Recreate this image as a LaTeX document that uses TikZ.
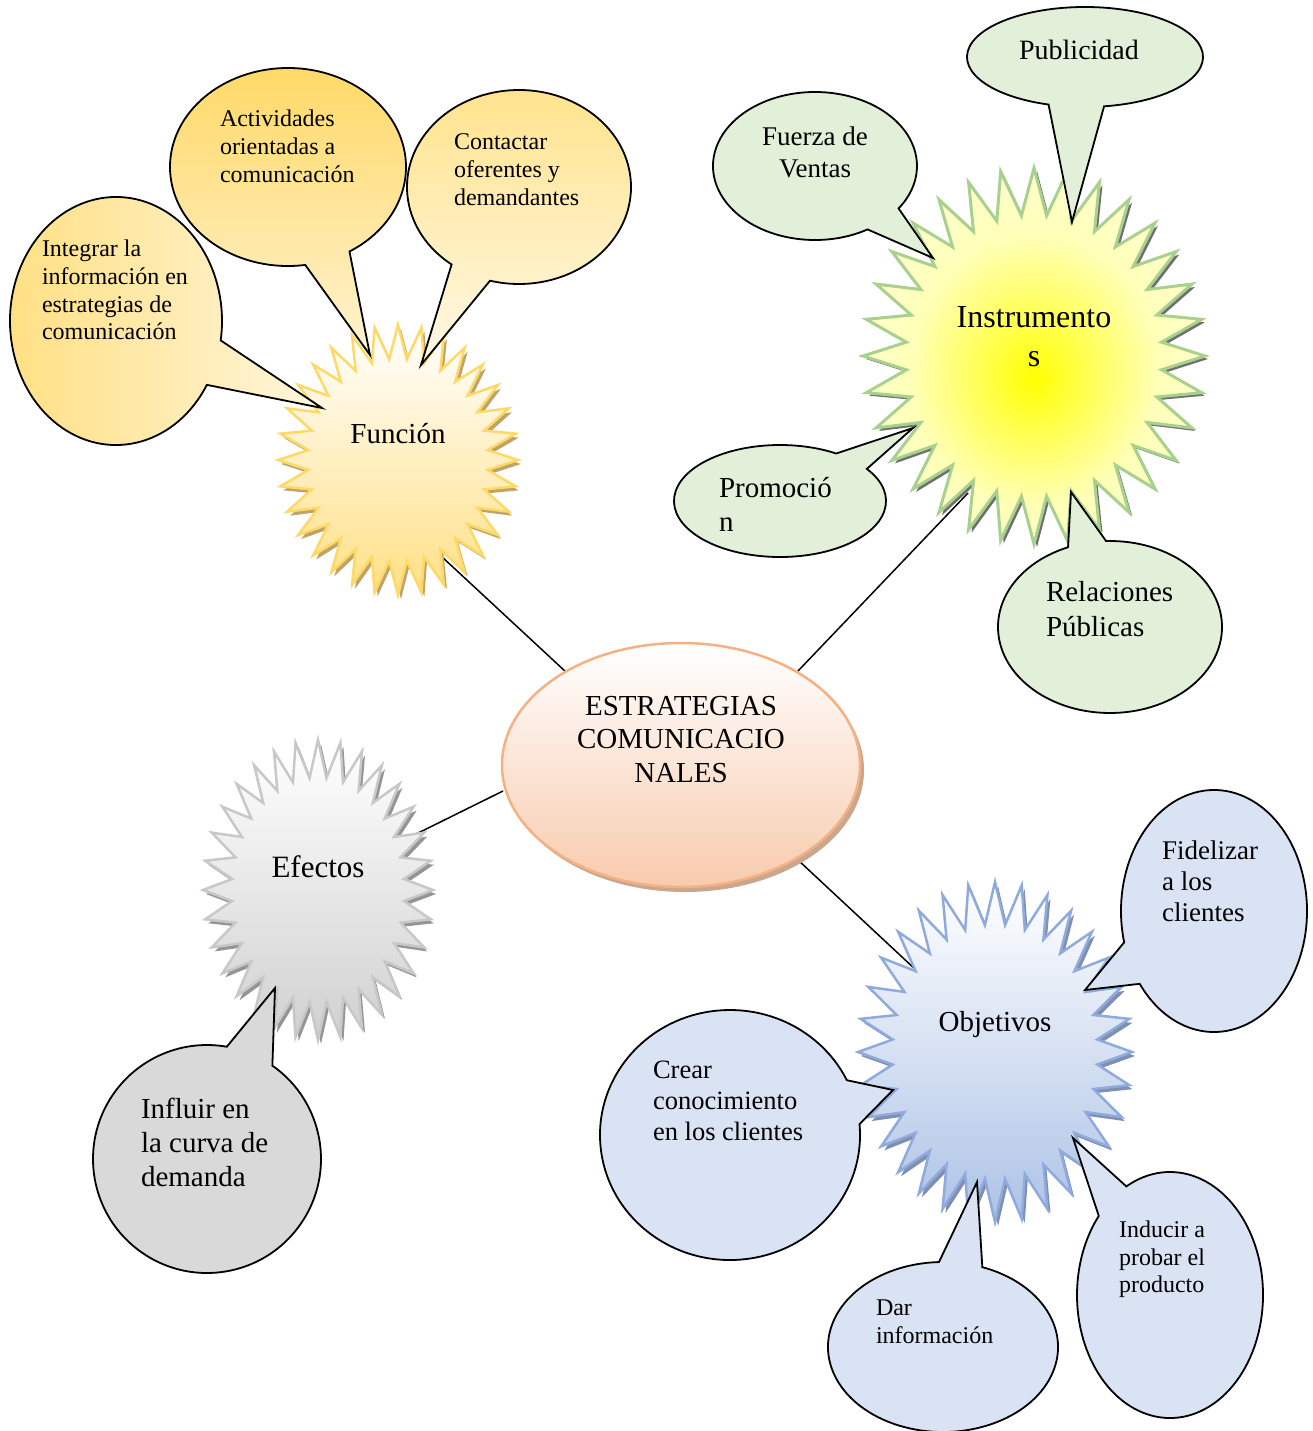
\documentclass[tikz,border=0pt]{standalone}
\usepackage{fontspec}
\setmainfont{Liberation Serif}
\usetikzlibrary{shapes.geometric,shadings}
\definecolor{fBorder}{HTML}{FFD966}
\definecolor{fShadow}{HTML}{BFA46A}
\definecolor{fBot}{HTML}{FFE085}
\definecolor{actTop}{HTML}{FFD865}
\definecolor{actBot}{HTML}{FFF3D2}
\definecolor{conTop}{HTML}{FFE28A}
\definecolor{conBot}{HTML}{FFF9E6}
\definecolor{intL}{HTML}{FFDF80}
\definecolor{intR}{HTML}{FFF6DC}
\definecolor{gFill}{HTML}{E2EFD9}
\definecolor{gBorder}{HTML}{A9D18E}
\definecolor{iShadow}{HTML}{6F6F6F}
\definecolor{cBorder}{HTML}{F4B183}
\definecolor{cBot}{HTML}{F8CBAD}
\definecolor{cShadow}{HTML}{C9A68E}
\definecolor{eBorder}{HTML}{C8C8C8}
\definecolor{eBot}{HTML}{D0D0D0}
\definecolor{eShadow}{HTML}{959595}
\definecolor{grFill}{HTML}{D9D9D9}
\definecolor{oBorder}{HTML}{8FAADC}
\definecolor{oBot}{HTML}{ADC2E6}
\definecolor{oShadow}{HTML}{7F8FAF}
\definecolor{bFill}{HTML}{DAE3F3}
\pgfdeclareradialshading{instrsh}{\pgfpoint{0bp}{-3bp}}{color(0bp)=(yellow); color(6bp)=(yellow!75!white); color(18bp)=(yellow!28!white); color(32bp)=(yellow!14!white); color(50bp)=(yellow!10!white)}
\newcommand\drawstar[5]{\path[#1] plot[samples=64, domain=0:63, variable=\k] ({#2+#4*(1-0.25*mod(\k,2))*cos(-90+\k*5.625)}, {#3+#5*(1-0.25*mod(\k,2))*sin(-90+\k*5.625)}) -- cycle;}
\newcommand\bubble[8]{\path[#1] (#2,#3) ++(#7:#4 and #5) arc[start angle=#7, end angle=#6+360, x radius=#4, y radius=#5] -- #8 -- cycle;}
\begin{document}
\begin{tikzpicture}[x=1pt,y=-1pt,
  bub/.style={draw=black, line width=1.8pt, line join=miter},
  conn/.style={draw=black, line width=1.5pt},
  txt/.style={inner sep=0pt, outer sep=0pt, align=left},
  ctxt/.style={inner sep=0pt, outer sep=0pt, align=center}]
\useasboundingbox[fill=white] (0,0) rectangle (1313,1431);

% connectors
\coordinate (fA) at (441,556); \coordinate (cA) at (566,672);
\coordinate (iA) at (968,493); \coordinate (cB) at (798,671);
\coordinate (eA) at (408,838); \coordinate (cC) at (503,791);
\coordinate (oA) at (916,970); \coordinate (cD) at (798,860);
\draw[conn] (fA) -- (cA);
\draw[conn] (iA) -- (cB);
\draw[conn] (eA) -- (cC);
\draw[conn] (oA) -- (cD);

% central ellipse
\fill[cShadow] (685,770) ellipse[x radius=179, y radius=122];
\path[top color=white, bottom color=cBot, draw=cBorder, line width=2.5pt] (681,765) ellipse[x radius=179, y radius=122];
\node[ctxt, anchor=north, font=\fontsize{29}{33.5}\selectfont] (core) at (681,696) {ESTRATEGIAS\\COMUNICACIO\\NALES};

% Funcion star
\drawstar{fill=fShadow, shift={(3,4)}}{398}{460}{120}{135}
\drawstar{top color=white, bottom color=fBot, draw=fBorder, line width=2.5pt, line join=miter}{398}{460}{120}{135}
\node[ctxt, anchor=base, font=\fontsize{29}{33}\selectfont] (funcion) at (398,443) {Función};

% Instrumentos star
\drawstar{fill=iShadow, shift={(3,3)}}{1034}{356}{171}{188}
\drawstar{shading=instrsh, draw=gBorder, line width=3pt, line join=miter}{1034}{356}{171}{188}
\node[ctxt, anchor=north, font=\fontsize{32}{39}\selectfont] (instr) at (1034,307) {Instrumento\\s};

% Efectos star
\drawstar{fill=eShadow, shift={(3,4)}}{318}{890}{115}{150}
\drawstar{top color=white, bottom color=eBot, draw=eBorder, line width=2.5pt, line join=miter}{318}{890}{115}{150}
\node[ctxt, anchor=base, font=\fontsize{31}{35}\selectfont] (efectos) at (318,877) {Efectos};

% Objetivos star
\drawstar{fill=oShadow, shift={(3,4)}}{995}{1052}{137}{170}
\drawstar{top color=white, bottom color=oBot, draw=oBorder, line width=2.5pt, line join=miter}{995}{1052}{137}{170}
\node[ctxt, anchor=base, font=\fontsize{29}{33}\selectfont] (objetivos) at (995,1031) {Objetivos};

% Funcion bubbles
\bubble{bub, left color=intL, right color=intR}{116}{321}{106}{124}{9}{31}{(322,408)}
\node[txt, anchor=north west, font=\fontsize{24}{27.7}\selectfont] (integrar) at (42,240) {Integrar la\\información en\\estrategias de\\comunicación};
\bubble{bub, top color=actTop, bottom color=actBot}{288}{167}{118}{99}{58.6}{81.6}{(370,355)}
\node[txt, anchor=north west, font=\fontsize{24}{28}\selectfont] (activ) at (220,110) {Actividades\\orientadas a\\comunicación};
\bubble{bub, top color=conTop, bottom color=conBot}{519}{187}{112}{97}{105}{127}{(421,365)}
\node[txt, anchor=north west, font=\fontsize{24}{28}\selectfont] (contact) at (454,134) {Contactar\\oferentes y\\demandantes};

% Instrumentos bubbles
\bubble{bub, fill=gFill}{1085}{57}{118}{50}{80.7}{108}{(1072,222)}
\node[ctxt, anchor=base, font=\fontsize{28}{32}\selectfont] (public) at (1079,60) {Publicidad};
\bubble{bub, fill=gFill}{815}{166}{102}{74}{35}{59}{(933,258)}
\node[ctxt, anchor=north, font=\fontsize{27}{32}\selectfont] (fuerza) at (815,127) {Fuerza de\\Ventas};
\bubble{bub, fill=gFill}{780}{501}{106}{56}{-58}{-35}{(913,428)}
\node[txt, anchor=north west, font=\fontsize{29}{34}\selectfont] (promo) at (719,477) {Promoció\\n};
\bubble{bub, fill=gFill}{1110}{627}{112}{86}{-112}{-92}{(1071,492)}
\node[txt, anchor=north west, font=\fontsize{29}{35}\selectfont] (relac) at (1046,581) {Relaciones\\Públicas};

% Efectos bubble
\bubble{bub, fill=grFill}{207}{1159}{114}{114}{-80}{-55}{(275,988)}
\node[txt, anchor=north west, font=\fontsize{29}{34}\selectfont] (influir) at (141,1098) {Influir en\\la curva de\\demanda};

% Objetivos bubbles
\bubble{bub, fill=bFill}{1214}{911}{93}{121}{143}{165}{(1085,990)}
\node[txt, anchor=north west, font=\fontsize{27}{31}\selectfont] (fidel) at (1162,841) {Fidelizar\\a los\\clientes};
\bubble{bub, fill=bFill}{730}{1135}{130}{125}{-26}{-5}{(893,1090)}
\node[txt, anchor=north west, font=\fontsize{26.5}{31}\selectfont] (crear) at (653,1061) {Crear\\conocimiento\\en los clientes};
\bubble{bub, fill=bFill}{943}{1347}{115}{85}{-92}{-70}{(977,1182)}
\node[txt, anchor=north west, font=\fontsize{24}{28}\selectfont] (dar) at (876,1300) {Dar\\información};
\bubble{bub, fill=bFill}{1170}{1295}{93}{123}{-140}{-118}{(1073,1138)}
\node[txt, anchor=north west, font=\fontsize{24}{27.5}\selectfont] (induc) at (1119,1221) {Inducir a\\probar el\\producto};
\end{tikzpicture}
\end{document}
